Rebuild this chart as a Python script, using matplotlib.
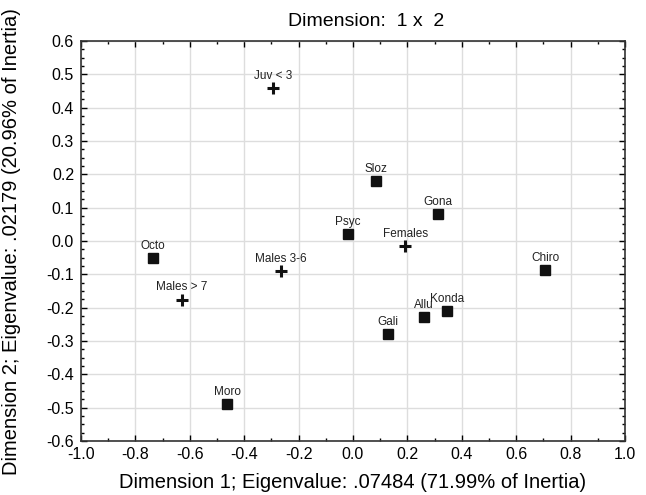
import numpy as np
import matplotlib
matplotlib.use('Agg')
from matplotlib import pyplot as plt
from matplotlib.ticker import MultipleLocator

plt.rcParams['font.family'] = ['Liberation Sans', 'DejaVu Sans']
plt.rcParams['axes.unicode_minus'] = False

# column points (squares)
sq_names = ['Sloz', 'Gona', 'Psyc', 'Chiro', 'Konda', 'Allu', 'Gali', 'Octo', 'Moro']
sq_x = [0.085, 0.312, -0.018, 0.707, 0.347, 0.261, 0.129, -0.736, -0.463]
sq_y = [0.180, 0.081, 0.020, -0.087, -0.211, -0.228, -0.280, -0.052, -0.490]

# row points (crosses)
cr_names = ['Juv < 3', 'Females', 'Males 3-6', 'Males > 7']
cr_x = [-0.294, 0.192, -0.265, -0.630]
cr_y = [0.459, -0.015, -0.090, -0.176]

xticks = [-1.0, -0.8, -0.6, -0.4, -0.2, 0.0, 0.2, 0.4, 0.6, 0.8, 1.0]
yticks = [-0.6, -0.5, -0.4, -0.3, -0.2, -0.1, 0.0, 0.1, 0.2, 0.3, 0.4, 0.5, 0.6]

fig = plt.figure(figsize=(6.46, 4.95), dpi=100)
ax = fig.add_axes([0.1254, 0.109, 0.842, 0.808])

ax.plot(sq_x, sq_y, 's', color='#111111', markersize=7, zorder=3)
ax.scatter(cr_x, cr_y, marker='+', s=85, color='#111111', linewidths=2.2, zorder=3)

for n, x, y in zip(sq_names + cr_names, sq_x + cr_x, sq_y + cr_y):
    ax.annotate(n, (x, y), xytext=(0, 4.5), textcoords='offset points',
                ha='center', va='bottom', fontsize=8.5, color='#222222')

ax.set_xlim(-1.0, 1.0)
ax.set_ylim(-0.6, 0.6)
ax.set_xticks(xticks)
ax.set_xticklabels(['%.1f' % t for t in xticks])
ax.set_yticks(yticks)
ax.set_yticklabels(['%.1f' % t for t in yticks])
ax.xaxis.set_minor_locator(MultipleLocator(0.1))
ax.yaxis.set_minor_locator(MultipleLocator(0.025))
ax.tick_params(axis='both', which='major', direction='in', length=4, width=1,
               top=True, right=True, labelsize=11.5)
ax.tick_params(axis='x', which='major', pad=4)
ax.tick_params(axis='y', which='major', pad=5)
ax.tick_params(axis='both', which='minor', direction='in', length=2, width=1,
               top=True, right=True)
ax.grid(True, color='#dddddd', linewidth=1)
ax.set_axisbelow(True)
for s in ax.spines.values():
    s.set_linewidth(1.2)
    s.set_color('#333333')

fig.text(366 / 646, 1 - 22 / 495, 'Dimension:  1 x  2', fontsize=14,
         ha='center', va='center')
ax.set_xlabel('Dimension 1; Eigenvalue: .07484 (71.99% of Inertia)', fontsize=14.5)
ax.set_ylabel('Dimension 2; Eigenvalue: .02179 (20.96% of Inertia)', fontsize=14.5)
ax.xaxis.set_label_coords(0.5, -0.1025)
ax.xaxis.label.set_va('center')
ax.yaxis.set_label_coords(-0.127, 0.5)
ax.yaxis.label.set_va('center')

fig.savefig('out.png', dpi=100)
plt.close()
